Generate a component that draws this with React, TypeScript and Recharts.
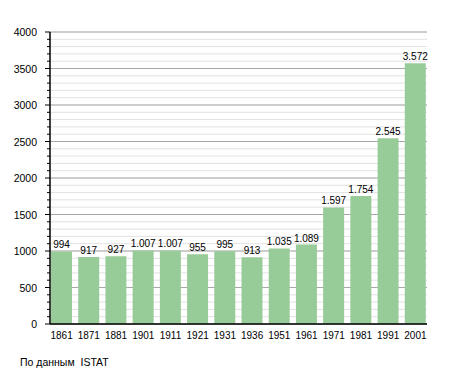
import React from "react";
import { BarChart, Bar, XAxis, YAxis, CartesianGrid, LabelList } from "recharts";

const YEARS = ["1861", "1871", "1881", "1901", "1911", "1921", "1931", "1936", "1951", "1961", "1971", "1981", "1991", "2001"];
const POPULATION = [994, 917, 927, 1007, 1007, 955, 995, 913, 1035, 1089, 1597, 1754, 2545, 3572];
const MINOR_STEPS = Array.from({ length: 41 }, (_, i) => i * 100);
const MAJOR_STEPS = [0, 500, 1000, 1500, 2000, 2500, 3000, 3500, 4000];

const data = YEARS.map((y, i) => ({ year: y, pop: POPULATION[i] }));

const FONT = "'Liberation Sans', Arial, sans-serif";
const FS = 10.5;

function fmt(v: number) {
  return v >= 1000 ? `${Math.floor(v / 1000)}.${String(v % 1000).padStart(3, "0")}` : String(v);
}

function YTick(props: any) {
  const { y, payload } = props;
  const major = payload.value % 500 === 0;
  return (
    <g>
      <line x1={50 - (major ? 5 : 3)} x2={50} y1={y} y2={y} stroke="#000" strokeWidth={1} />
      {major && (
        <text x={37} y={y} dy={4} textAnchor="end" fontSize={FS} fontFamily={FONT} fill="#000">
          {payload.value}
        </text>
      )}
    </g>
  );
}

export default function App() {
  return (
    <div style={{ position: "absolute", left: 0, top: 0, width: 455, height: 373, background: "#fff" }}>
      <BarChart
        width={455}
        height={373}
        data={data}
        margin={{ top: 32, right: 28, bottom: 29, left: 0 }}
        barCategoryGap={3}
      >
        <CartesianGrid vertical={false} horizontalValues={MINOR_STEPS} stroke="#e2e2e2" strokeWidth={1} />
        <CartesianGrid vertical={false} horizontalValues={MAJOR_STEPS} stroke="#a8a8a8" strokeWidth={1} />
        <XAxis
          dataKey="year"
          tickLine={false}
          axisLine={{ stroke: "#000", strokeWidth: 1.5 }}
          tick={{ fontSize: 10, fontFamily: FONT, fill: "#000" }}
          interval={0}
          height={20}
          tickMargin={2}
          padding={{ left: -2, right: -2 }}
        />
        <YAxis
          domain={[0, 4000]}
          ticks={MINOR_STEPS}
          interval={0}
          width={50}
          axisLine={{ stroke: "#000", strokeWidth: 1.5 }}
          tickLine={false}
          tick={<YTick />}
        />
        <Bar dataKey="pop" fill="#97cb97" isAnimationActive={false}>
          <LabelList
            dataKey="pop"
            position="top"
            offset={3}
            formatter={(v: any) => fmt(Number(v))}
            style={{ fontSize: 10, fontFamily: FONT, fill: "#000" }}
          />
        </Bar>
      </BarChart>
      <div
        style={{
          position: "absolute",
          left: 20,
          top: 356,
          fontSize: FS,
          fontFamily: FONT,
          color: "#000",
        }}
      >
        По данным&nbsp; ISTAT
      </div>
    </div>
  );
}
